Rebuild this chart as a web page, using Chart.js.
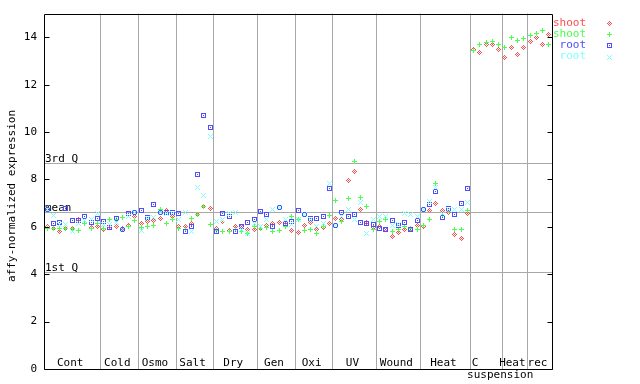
<!DOCTYPE html>
<html><head><meta charset="utf-8">
<script src="https://cdn.jsdelivr.net/npm/chart.js@4/dist/chart.umd.min.js"></script>
<style>html,body{margin:0;padding:0;background:#fff;}canvas{display:block;}</style>
</head><body>
<canvas id="c" width="640" height="384"></canvas>
<script>
// ---- data ----
const groups = ["Cont","Cold","Osmo","Salt","Dry","Gen","Oxi","UV","Wound","Heat","C","Heat","rec"];
const groupSizes = [9,6,6,6,7,6,6,7,7,8,5,4,4];
const groupSubLabel = "suspension";
const yTicks = [0,2,4,6,8,10,12,14];
const refValues = [8.69, 6.62, 4.08];
const refLabels = ["3rd Q","mean","1st Q"];
const seriesNames = ["shoot","shoot","root","root"];
const yTitle = "affy-normalized expression";

const shootA = [6.03,5.93,5.82,5.91,5.95,6.29,6.17,5.96,6.01,
 5.89,6.01,6.01,5.95,6.04,6.45,
 6.12,6.23,6.26,6.34,6.69,6.44,
 6.03,6.01,6.12,6.51,6.87,6.76,
 5.95,6.22,5.85,6.01,6.01,5.87,5.87,
 5.95,6.05,6.16,6.18,6.10,5.83,
 5.77,6.05,6.20,5.87,5.96,6.16,
 6.37,6.30,7.97,8.35,6.72,6.20,5.97,
 6.00,5.90,5.60,5.78,5.87,5.90,6.05,
 6.02,6.69,6.97,6.67,6.60,5.69,5.49,6.57,
 13.48,13.34,13.69,13.69,13.48,
 13.13,13.59,13.27,13.59,
 13.83,14.01,13.69,14.11];
const shootB = [5.91,5.91,5.94,5.94,5.94,5.85,6.12,5.94,6.15,
 5.94,6.29,6.32,6.41,6.03,6.27,
 5.96,6.03,6.06,6.72,6.15,6.29,
 5.94,5.87,6.37,6.51,6.87,6.08,
 5.85,5.80,5.80,5.87,5.80,5.70,6.01,
 5.95,5.98,5.80,5.83,6.02,6.44,
 6.30,5.83,5.87,5.73,6.02,6.47,
 7.11,6.22,7.21,8.76,7.25,6.86,5.87,
 6.23,6.30,5.80,5.87,6.00,5.95,5.87,
 6.06,6.32,7.82,6.48,6.67,5.87,5.87,6.67,
 13.45,13.69,13.80,13.84,13.69,
 13.59,14.01,13.86,13.97,
 14.07,14.18,14.30,13.69];
const rootA = [6.72,6.16,6.20,6.78,6.27,6.27,6.45,6.20,6.34,
 6.24,5.98,6.37,5.89,6.55,6.60,
 6.67,6.41,6.93,6.62,6.60,6.60,
 6.55,5.82,6.01,8.22,10.68,10.21,
 5.82,6.55,6.44,5.82,6.00,6.18,6.29,
 6.66,6.51,6.02,6.82,6.13,6.23,
 6.71,6.51,6.37,6.37,6.44,7.63,
 6.06,6.62,6.44,6.54,6.19,6.13,6.09,
 5.95,5.90,6.25,6.05,6.19,5.87,6.25,
 6.75,6.93,7.51,6.41,6.79,6.51,7.00,7.63,
 null,null,null,null,null,null,null,null,null,null,null,null,null];
const rootB = [6.75,6.46,6.11,6.10,5.82,6.15,6.25,6.30,6.56,
 6.10,6.10,6.18,5.89,6.45,6.62,
 5.85,6.34,6.38,6.62,6.58,6.58,
 6.29,6.62,5.82,7.68,7.32,9.83,
 6.22,6.30,6.58,6.62,5.87,5.70,6.15,
 6.00,6.30,6.75,6.80,6.30,6.10,
 6.30,6.51,6.30,6.02,6.16,7.84,
 6.06,6.44,6.75,6.30,7.03,5.70,6.30,
 6.42,6.44,6.05,6.10,6.58,6.50,6.44,
 6.75,7.07,7.68,6.58,6.75,6.75,6.75,7.04,
 null,null,null,null,null,null,null,null,null,null,null,null,null];

// ---- styles ----
const FONT = '11px "DejaVu Sans Mono", monospace';
const colors = ["#ff4d4d","#4dff4d","#4d4dff","#80ffff"];
const patterns = [
 ["..#..",".#.#.","#.#.#",".#.#.","..#.."],
 ["..#..","..#..","#####","..#..","..#.."],
 ["#####","#...#","#.#.#","#...#","#####"],
 ["#...#",".#.#.","..#..",".#.#.","#...#"]
];
function makeMarker(p, color){
  const c=document.createElement('canvas'); c.width=p[0].length; c.height=p.length;
  const g=c.getContext('2d'); g.fillStyle=color;
  p.forEach((row,y)=>[...row].forEach((ch,x)=>{ if(ch==='#') g.fillRect(x,y,1,1); }));
  return c;
}
const markers = patterns.map((p,i)=>makeMarker(p,colors[i]));
const nPoints = groupSizes.reduce((a,b)=>a+b,0);
const toXY = arr => arr.map((v,i)=>({x:i+0.5,y:v}));
const seriesData = [shootA, shootB, rootA, rootB];

const overlay = {
  id:'overlay',
  beforeDatasetsDraw(chart){
    const ctx=chart.ctx, a=chart.chartArea, xs=chart.scales.x, ys=chart.scales.y;
    ctx.save();
    ctx.strokeStyle='#a8a8a8'; ctx.lineWidth=1;
    // group separators
    let cum=0;
    groupSizes.forEach((n,gi)=>{
      cum+=n;
      if(gi<groupSizes.length-1){
        const x=Math.round(xs.getPixelForValue(cum))+0.5;
        ctx.beginPath(); ctx.moveTo(x,a.top); ctx.lineTo(x,a.bottom); ctx.stroke();
      }
    });
    // reference lines
    ctx.font=FONT; ctx.fillStyle='#000'; ctx.textAlign='left'; ctx.textBaseline='bottom';
    refValues.forEach((v,i)=>{
      const y=Math.round(ys.getPixelForValue(v))+0.5;
      ctx.beginPath(); ctx.moveTo(a.left,y); ctx.lineTo(a.right,y); ctx.stroke();
      ctx.fillText(refLabels[i], a.left+1, y+1);
    });
    // group labels
    ctx.textAlign='center'; ctx.textBaseline='alphabetic';
    cum=0;
    groupSizes.forEach((n,gi)=>{
      const c=xs.getPixelForValue(cum+n/2);
      cum+=n;
      let off=-2;
      if(groups[gi]==='C') off=-11;
      ctx.fillText(groups[gi], c+off, a.bottom-3);
      if(groups[gi]==='C') ctx.fillText(groupSubLabel, c+14, a.bottom+9);
    });
    ctx.restore();
    ctx.imageSmoothingEnabled=false;
  },
  afterDatasetsDraw(chart){
    const ctx=chart.ctx, a=chart.chartArea, ys=chart.scales.y;
    ctx.save();
    ctx.imageSmoothingEnabled=false;
    ctx.strokeStyle='#000'; ctx.lineWidth=1;
    const L=Math.round(a.left)+0.5, R=Math.round(a.right)+0.5, T=Math.round(a.top)+0.5, B=Math.round(a.bottom)+0.5;
    ctx.beginPath(); ctx.moveTo(L,T); ctx.lineTo(R,T); ctx.lineTo(R,B); ctx.lineTo(L,B); ctx.closePath(); ctx.stroke();
    yTicks.forEach(v=>{
      const y=Math.round(ys.getPixelForValue(v))+0.5;
      ctx.beginPath(); ctx.moveTo(L,y); ctx.lineTo(L+5,y); ctx.moveTo(R,y); ctx.lineTo(R-5,y); ctx.stroke();
    });
    // legend
    ctx.font=FONT; ctx.textAlign='right'; ctx.textBaseline='middle';
    seriesNames.forEach((s,i)=>{
      const y=23+i*11.2;
      ctx.fillStyle=colors[i];
      ctx.fillText(s, 586, y);
      ctx.drawImage(markers[i], 607, Math.round(y)-2);
    });
    // y title
    ctx.fillStyle='#000'; ctx.textAlign='center'; ctx.textBaseline='middle';
    ctx.translate(12,196); ctx.rotate(-Math.PI/2);
    ctx.fillText(yTitle,0,0);
    ctx.restore();
  }
};

new Chart(document.getElementById('c'),{
  type:'scatter',
  data:{datasets: seriesData.map((arr,i)=>({
    label: seriesNames[i],
    data: toXY(arr),
    pointStyle: markers[i],
    pointRadius: 3,
    borderColor: colors[i],
    backgroundColor: colors[i],
    order: 4-i
  }))},
  options:{
    responsive:false, animation:false,
    layout:{padding:{left:0,right:88,top:13,bottom:15}},
    plugins:{legend:{display:false},tooltip:{enabled:false}},
    scales:{
      x:{type:'linear',min:0,max:nPoints,display:false},
      y:{type:'linear',min:0,max:15,position:'left',
         grid:{display:false,drawTicks:false}, border:{display:false},
         afterBuildTicks: s=>{ s.ticks = yTicks.map(v=>({value:v})); },
         afterFit: s=>{ s.width=44; },
         ticks:{font:{family:'"DejaVu Sans Mono", monospace',size:11},color:'#000',padding:7,autoSkip:false,
                callback:v=>String(v)}}
    }
  },
  plugins:[overlay]
});
</script>
</body></html>
